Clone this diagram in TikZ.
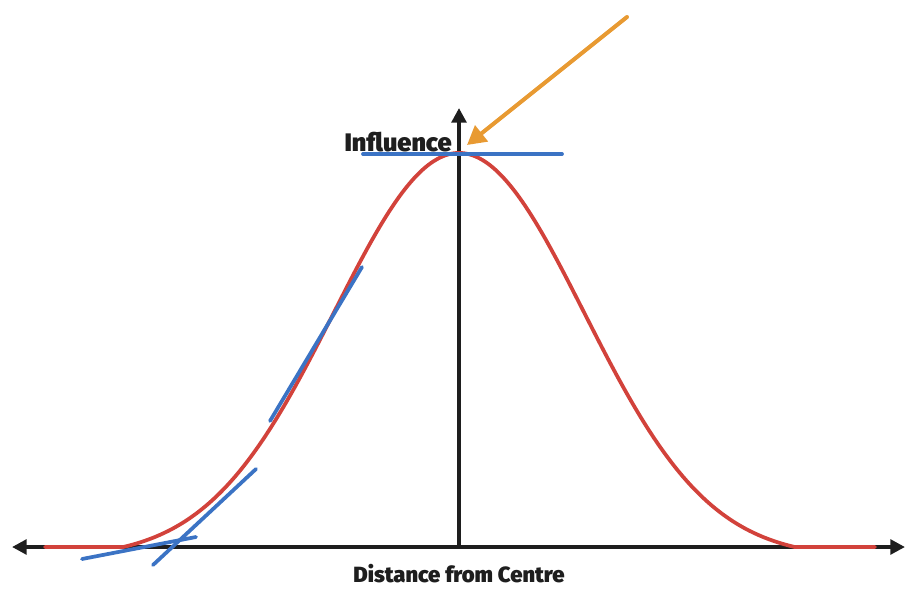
\documentclass[tikz,border=0pt]{standalone}
\usepackage{fontspec}
\setmainfont{Fira Sans}[BoldFont={Fira Sans Black}]
\usetikzlibrary{arrows.meta}
\definecolor{inkblack}{HTML}{1E1E1E}
\definecolor{curvered}{HTML}{D2423B}
\definecolor{tanblue}{HTML}{3B73C4}
\definecolor{markorange}{HTML}{E89A32}
\tikzset{
  axisline/.style={draw=inkblack, line width=2.8pt, -{Triangle[length=11pt,width=11pt]}},
  bellcurve/.style={draw=curvered, line width=2.8pt, line cap=round, line join=round},
  tangent/.style={draw=tanblue, line width=2.8pt, line cap=round},
  pointer/.style={draw=markorange, line width=3pt, line cap=round, -{Triangle[length=14pt,width=15pt]}},
  axislabel/.style={font=\bfseries\fontsize{16.5}{19}\selectfont, text=inkblack, inner sep=0pt}
}
\begin{document}
\begin{tikzpicture}[x=0.75pt,y=-0.75pt]
        \useasboundingbox (0,0) rectangle (917,610);

        \coordinate (origin) at (459,547);
        \coordinate (xleft) at (12,547);
        \coordinate (xright) at (905,547);
        \coordinate (ytop) at (459,108);
        \coordinate (arrowstart) at (627,17);
        \coordinate (arrowend) at (467,145);

        \draw [axisline] (origin) -- (xleft);
        \draw [axisline] (origin) -- (xright);
        \draw [axisline] (origin) -- (ytop);

        % bell curve with flat tails
        \draw [bellcurve] (45,547) -- (123,547)
            -- plot [domain=-336:336, samples=120, smooth]
               ({459+\x},{547-394*(exp(-(\x/125)^2/2)-0.0271)/(1-0.0271)})
            -- (875,547);

        \draw [tangent] (363,154) -- (562,154);
        \draw [tangent] (270,421) -- (362,267);
        \draw [tangent] (153,565) -- (256,469);
        \draw [tangent] (82,559) -- (196,537);

        \draw [pointer] (arrowstart) -- (arrowend);

        \node [axislabel, font=\bfseries\fontsize{19}{22}\selectfont, anchor=base east] (influence) at (452,151) {Influence};
        \node [axislabel, anchor=center] (distance) at (459,574) {Distance from Centre};

\end{tikzpicture}
\end{document}
